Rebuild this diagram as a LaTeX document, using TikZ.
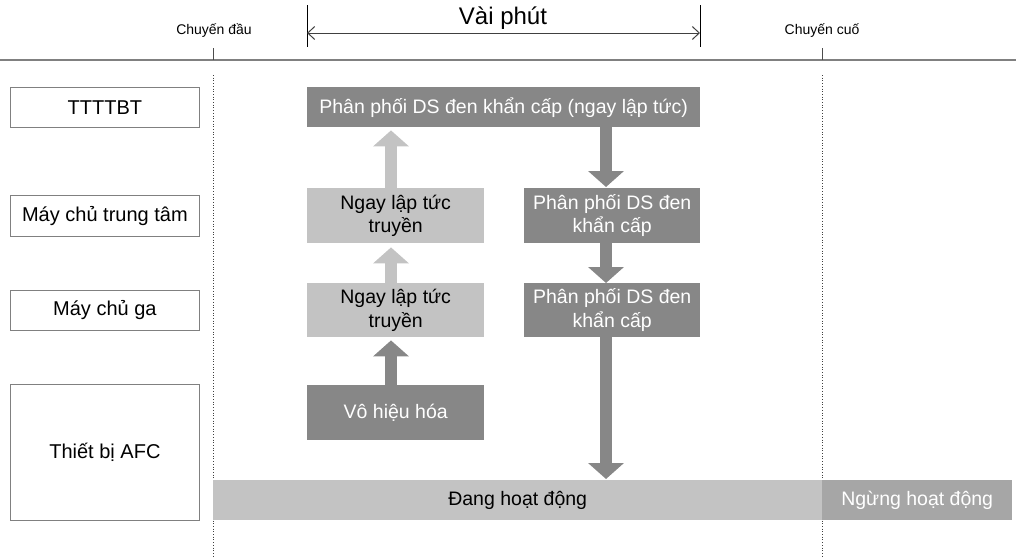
\documentclass[tikz,border=0pt]{standalone}
\usepackage{fontspec}
\setmainfont{Liberation Sans}
\usetikzlibrary{arrows.meta}
\definecolor{darkfill}{HTML}{878787}
\definecolor{lightfill}{HTML}{C3C3C3}
\definecolor{stopfill}{HTML}{A6A6A6}
\definecolor{rulegray}{HTML}{808080}
\begin{document}
\begin{tikzpicture}[x=1pt,y=-1pt,
  lane/.style={draw=rulegray, line width=0.8pt, fill=white, anchor=north west,
    inner sep=0pt, minimum width=189pt, font=\fontsize{20}{24}\selectfont},
  cell/.style={anchor=north west, inner sep=0pt, align=center,
    font=\fontsize{19.5}{23.5}\selectfont},
  darkbox/.style={cell, fill=darkfill, text=white},
  lightbox/.style={cell, fill=lightfill, text=black},
  blockarrow/.style={line width=12.5pt, line cap=butt,
    -{Triangle[length=16pt,width=35pt]}},
  darkarrow/.style={blockarrow, draw=darkfill},
  lightarrow/.style={blockarrow, draw=lightfill},
  tripmark/.style={font=\fontsize{14}{16}\selectfont},
  timeline/.style={draw=rulegray, line width=1.1pt},
  boundary/.style={draw=black!75, line width=0.7pt, dotted}
]
\useasboundingbox (0,0) rectangle (1016,557);

% time axis
\coordinate (axisL) at (0,60);
\coordinate (axisR) at (1016,60);
\draw[timeline] (axisL) -- (axisR);

% first and last trip markers
\coordinate (firstTop) at (213,48);
\coordinate (firstAxis) at (213,60);
\coordinate (firstDotA) at (213,75);
\coordinate (firstDotB) at (213,557);
\coordinate (lastTop) at (822,48);
\coordinate (lastAxis) at (822,60);
\coordinate (lastDotA) at (822,75);
\coordinate (lastDotB) at (822,557);
\draw[black!70, line width=0.8pt] (firstTop) -- (firstAxis);
\draw[black!70, line width=0.8pt] (lastTop) -- (lastAxis);
\draw[boundary] (firstDotA) -- (firstDotB);
\draw[boundary] (lastDotA) -- (lastDotB);
\node[tripmark] (first) at (214,31) {Chuyến đầu};
\node[tripmark] (last) at (822,31) {Chuyến cuố};

% "a few minutes" span
\coordinate (spanLtop) at (307,5);
\coordinate (spanLbot) at (307,47);
\coordinate (spanRtop) at (700,5);
\coordinate (spanRbot) at (700,47);
\coordinate (spanL) at (307,33);
\coordinate (spanR) at (700,33);
\draw[black, line width=1pt] (spanLtop) -- (spanLbot);
\draw[black, line width=1pt] (spanRtop) -- (spanRbot);
\draw[black!75, line width=1pt, {Straight Barb[length=7pt,width=13pt]}-{Straight Barb[length=7pt,width=13pt]}] (spanL) -- (spanR);
\node[font=\fontsize{24}{28}\selectfont] (span) at (503,18) {Vài phút};

% lane labels
\node[lane, minimum height=40pt] (l1) at (10,87) {TTTTBT};
\node[lane, minimum height=41pt] (l2) at (10,195) {Máy chủ trung tâm};
\node[lane, minimum height=40pt] (l3) at (10,290) {Máy chủ ga};
\node[lane, minimum height=136pt] (l4) at (10,384) {Thiết bị AFC};

% device state bars
\node[cell, fill=lightfill, minimum width=609pt, minimum height=40pt] (active) at (213,480) {Đang hoạt động};
\node[cell, fill=stopfill, text=white, minimum width=190pt, minimum height=40pt] (stopped) at (822,480) {Ngừng hoạt động};

% process boxes
\node[darkbox, minimum width=393pt, minimum height=40pt] (top) at (307,87) {Phân phối DS đen khẩn cấp (ngay lập tức)};
\node[lightbox, minimum width=177pt, minimum height=55pt] (up1) at (307,188) {Ngay lập tức\\truyền};
\node[lightbox, minimum width=177pt, minimum height=54pt] (up2) at (307,283) {Ngay lập tức\\truyền};
\node[darkbox, minimum width=177pt, minimum height=55pt] (off) at (307,385) {Vô hiệu hóa};
\node[darkbox, minimum width=176pt, minimum height=55pt] (dn1) at (524,188) {Phân phối DS đen\\khẩn cấp};
\node[darkbox, minimum width=176pt, minimum height=54pt] (dn2) at (524,283) {Phân phối DS đen\\khẩn cấp};

% arrow columns
\coordinate (upx) at (391,0);
\coordinate (dnx) at (606,0);
\draw[lightarrow, shorten >=3pt] (up1.north -| upx) -- (top.south -| upx);
\draw[lightarrow, shorten >=4pt] (up2.north -| upx) -- (up1.south -| upx);
\draw[darkarrow, shorten >=3pt] (off.north -| upx) -- (up2.south -| upx);
\draw[darkarrow, shorten >=1pt] (top.south -| dnx) -- (dn1.north -| dnx);
\draw[darkarrow] (dn1.south -| dnx) -- (dn2.north -| dnx);
\draw[darkarrow, shorten >=1pt] (dn2.south -| dnx) -- (active.north -| dnx);
\end{tikzpicture}
\end{document}
